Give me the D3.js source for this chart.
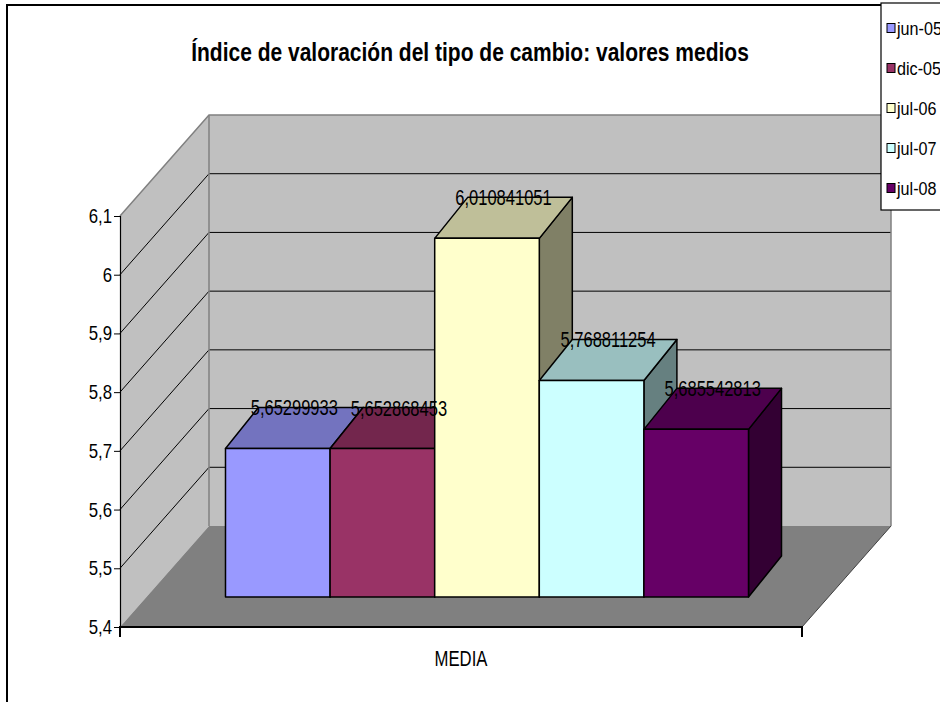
<!DOCTYPE html>
<html>
<head>
<meta charset="utf-8">
<script src="https://cdn.jsdelivr.net/npm/d3@7/dist/d3.min.js"></script>
<style>
  body { margin: 0; background: #fff; }
  text { font-family: "Liberation Sans", Arial, sans-serif; fill: #000; }
</style>
</head>
<body>
<svg id="chart" width="940" height="702"></svg>
<script>
// ---- data ----
const chartTitle = "Índice de valoración del tipo de cambio: valores medios";
const categories = ["MEDIA"];
const seriesNames = ["jun-05", "dic-05", "jul-06", "jul-07", "jul-08"];
const seriesValues = [5.65299933, 5.652868453, 6.010841051, 5.768811254, 5.685542813];
const valueLabels = ["5,65299933", "5,652868453", "6,010841051", "5,768811254", "5,685542813"];
const seriesColors = ["#9999FF", "#993366", "#FFFFCC", "#CCFFFF", "#660066"];
const yTicks = [5.4, 5.5, 5.6, 5.7, 5.8, 5.9, 6.0, 6.1];
const yTickLabels = ["5,4", "5,5", "5,6", "5,7", "5,8", "5,9", "6", "6,1"];

// ---- layout ----
const svg = d3.select("#chart");
const plot = { left: 120, right: 802, top: 216, bottom: 627 };
const wallDepth = { dx: 89, dy: -101 };   // offset from front plane to back wall
const barFront = { dx: 26, dy: -30 };     // bars sit part-way into the floor
const barDepth = { dx: 33, dy: -41 };     // thickness of each box

const y = d3.scaleLinear().domain([yTicks[0], yTicks[yTicks.length - 1]])
  .range([plot.bottom, plot.top]);
const xCat = d3.scaleBand().domain(categories).range([plot.left, plot.right]);
const xSer = d3.scaleBand().domain(seriesNames)
  .range([xCat(categories[0]), xCat(categories[0]) + xCat.bandwidth()])
  .paddingInner(0).paddingOuter(0.76);

const shade = (c, k) => { const r = d3.rgb(c); return d3.rgb(r.r * k, r.g * k, r.b * k).formatHex(); };
const pts = a => a.map(p => p.join(",")).join(" ");

function label(g, x, yy, str, o) {
  return g.append("text")
    .attr("transform", `translate(${x},${yy}) scale(${o.sx},1)`)
    .attr("text-anchor", o.anchor || "middle")
    .attr("font-size", o.size)
    .attr("font-weight", o.weight || "normal")
    .text(str);
}

// outer chart frame
svg.append("rect").attr("x", 7).attr("y", 5).attr("width", 960).attr("height", 720)
  .attr("fill", "none").attr("stroke", "#000").attr("stroke-width", 2);

// ---- walls and floor ----
const L = plot.left, R = plot.right, T = plot.top, B = plot.bottom;
const dx = wallDepth.dx, dy = wallDepth.dy;
const walls = svg.append("g");
// back wall
walls.append("polygon")
  .attr("points", pts([[L + dx, T + dy], [R + dx, T + dy], [R + dx, B + dy], [L + dx, B + dy]]))
  .attr("fill", "#C0C0C0");
// side wall
walls.append("polygon")
  .attr("points", pts([[L, T], [L + dx, T + dy], [L + dx, B + dy], [L, B]]))
  .attr("fill", "#C0C0C0");
// floor
walls.append("polygon")
  .attr("points", pts([[L, B], [R, B], [R + dx, B + dy], [L + dx, B + dy]]))
  .attr("fill", "#808080");

// gridlines on side and back walls
yTicks.slice(1, -1).forEach(v => {
  walls.append("polyline")
    .attr("points", pts([[L, y(v)], [L + dx, y(v) + dy], [R + dx, y(v) + dy]]))
    .attr("fill", "none").attr("stroke", "#000").attr("stroke-width", 1);
});
// wall edges
walls.append("polyline")
  .attr("points", pts([[L, T], [L + dx, T + dy], [R + dx, T + dy], [R + dx, B + dy]]))
  .attr("fill", "none").attr("stroke", "#808080").attr("stroke-width", 1.5);
walls.append("line")
  .attr("x1", L + dx).attr("y1", T + dy).attr("x2", L + dx).attr("y2", B + dy)
  .attr("stroke", "#808080").attr("stroke-width", 1.5);
walls.append("line")
  .attr("x1", R).attr("y1", B).attr("x2", R + dx).attr("y2", B + dy)
  .attr("stroke", "#404040").attr("stroke-width", 1);

// ---- axes ----
const yAxis = d3.axisLeft(y).tickValues(yTicks).tickSize(6)
  .tickFormat((d, i) => yTickLabels[i]);
const gy = svg.append("g").attr("transform", `translate(${L},0)`).call(yAxis);
gy.select(".domain").attr("stroke", "#000").attr("stroke-width", 1.2);
gy.selectAll(".tick line").attr("stroke", "#000");
gy.selectAll(".tick text").remove();
yTicks.forEach((v, i) => {
  label(svg, L - 8, y(v) + 7, yTickLabels[i], { size: 20, sx: 0.84, anchor: "end" });
});

const xAxis = d3.axisBottom(xCat).tickSize(0).tickFormat("");
const gx = svg.append("g").attr("transform", `translate(0,${B})`).call(xAxis);
gx.select(".domain").attr("stroke", "#000").attr("stroke-width", 2)
  .attr("d", `M${L},10V0H${R}V10`);
label(svg, xCat(categories[0]) + xCat.bandwidth() / 2, 666, categories[0], { size: 22, sx: 0.76 });

// ---- 3D bars ----
const bars = svg.append("g");
seriesNames.forEach((s, i) => {
  const x0 = xSer(s) + barFront.dx, x1 = x0 + xSer.bandwidth();
  const yb = y(yTicks[0]) + barFront.dy, yt = y(seriesValues[i]) + barFront.dy;
  const ddx = barDepth.dx, ddy = barDepth.dy;
  const col = seriesColors[i];
  const g = bars.append("g").attr("stroke", "#000").attr("stroke-width", 1.5)
    .attr("stroke-linejoin", "round");
  // right side
  g.append("polygon").attr("points", pts([[x1, yt], [x1 + ddx, yt + ddy], [x1 + ddx, yb + ddy], [x1, yb]]))
    .attr("fill", shade(col, 0.5));
  // top
  g.append("polygon").attr("points", pts([[x0, yt], [x0 + ddx, yt + ddy], [x1 + ddx, yt + ddy], [x1, yt]]))
    .attr("fill", shade(col, 0.75));
  // front
  g.append("rect").attr("x", x0).attr("y", yt).attr("width", x1 - x0).attr("height", yb - yt)
    .attr("fill", col);
});

// value labels above each box
seriesNames.forEach((s, i) => {
  const cx = xSer(s) + barFront.dx + xSer.bandwidth() / 2 + barDepth.dx / 2;
  const cy = y(seriesValues[i]) + barFront.dy + barDepth.dy;
  label(svg, cx, cy + 8, valueLabels[i], { size: 22, sx: 0.75 });
});

// ---- title ----
label(svg, 470, 61, chartTitle, { size: 25, sx: 0.84, weight: "bold" });

// ---- legend ----
const lg = svg.append("g");
lg.append("rect").attr("x", 881).attr("y", 3).attr("width", 80).attr("height", 207)
  .attr("fill", "#fff").attr("stroke", "#000").attr("stroke-width", 1.2);
const legendY = d3.scalePoint().domain(seriesNames).range([28, 188]);
seriesNames.forEach((s, i) => {
  const cy = legendY(s);
  lg.append("rect").attr("x", 887).attr("y", cy - 4.5).attr("width", 8).attr("height", 9)
    .attr("fill", seriesColors[i]).attr("stroke", "#000").attr("stroke-width", 1);
  label(lg, 897, cy + 7, s, { size: 19, sx: 0.85, anchor: "start" });
});
</script>
</body>
</html>
